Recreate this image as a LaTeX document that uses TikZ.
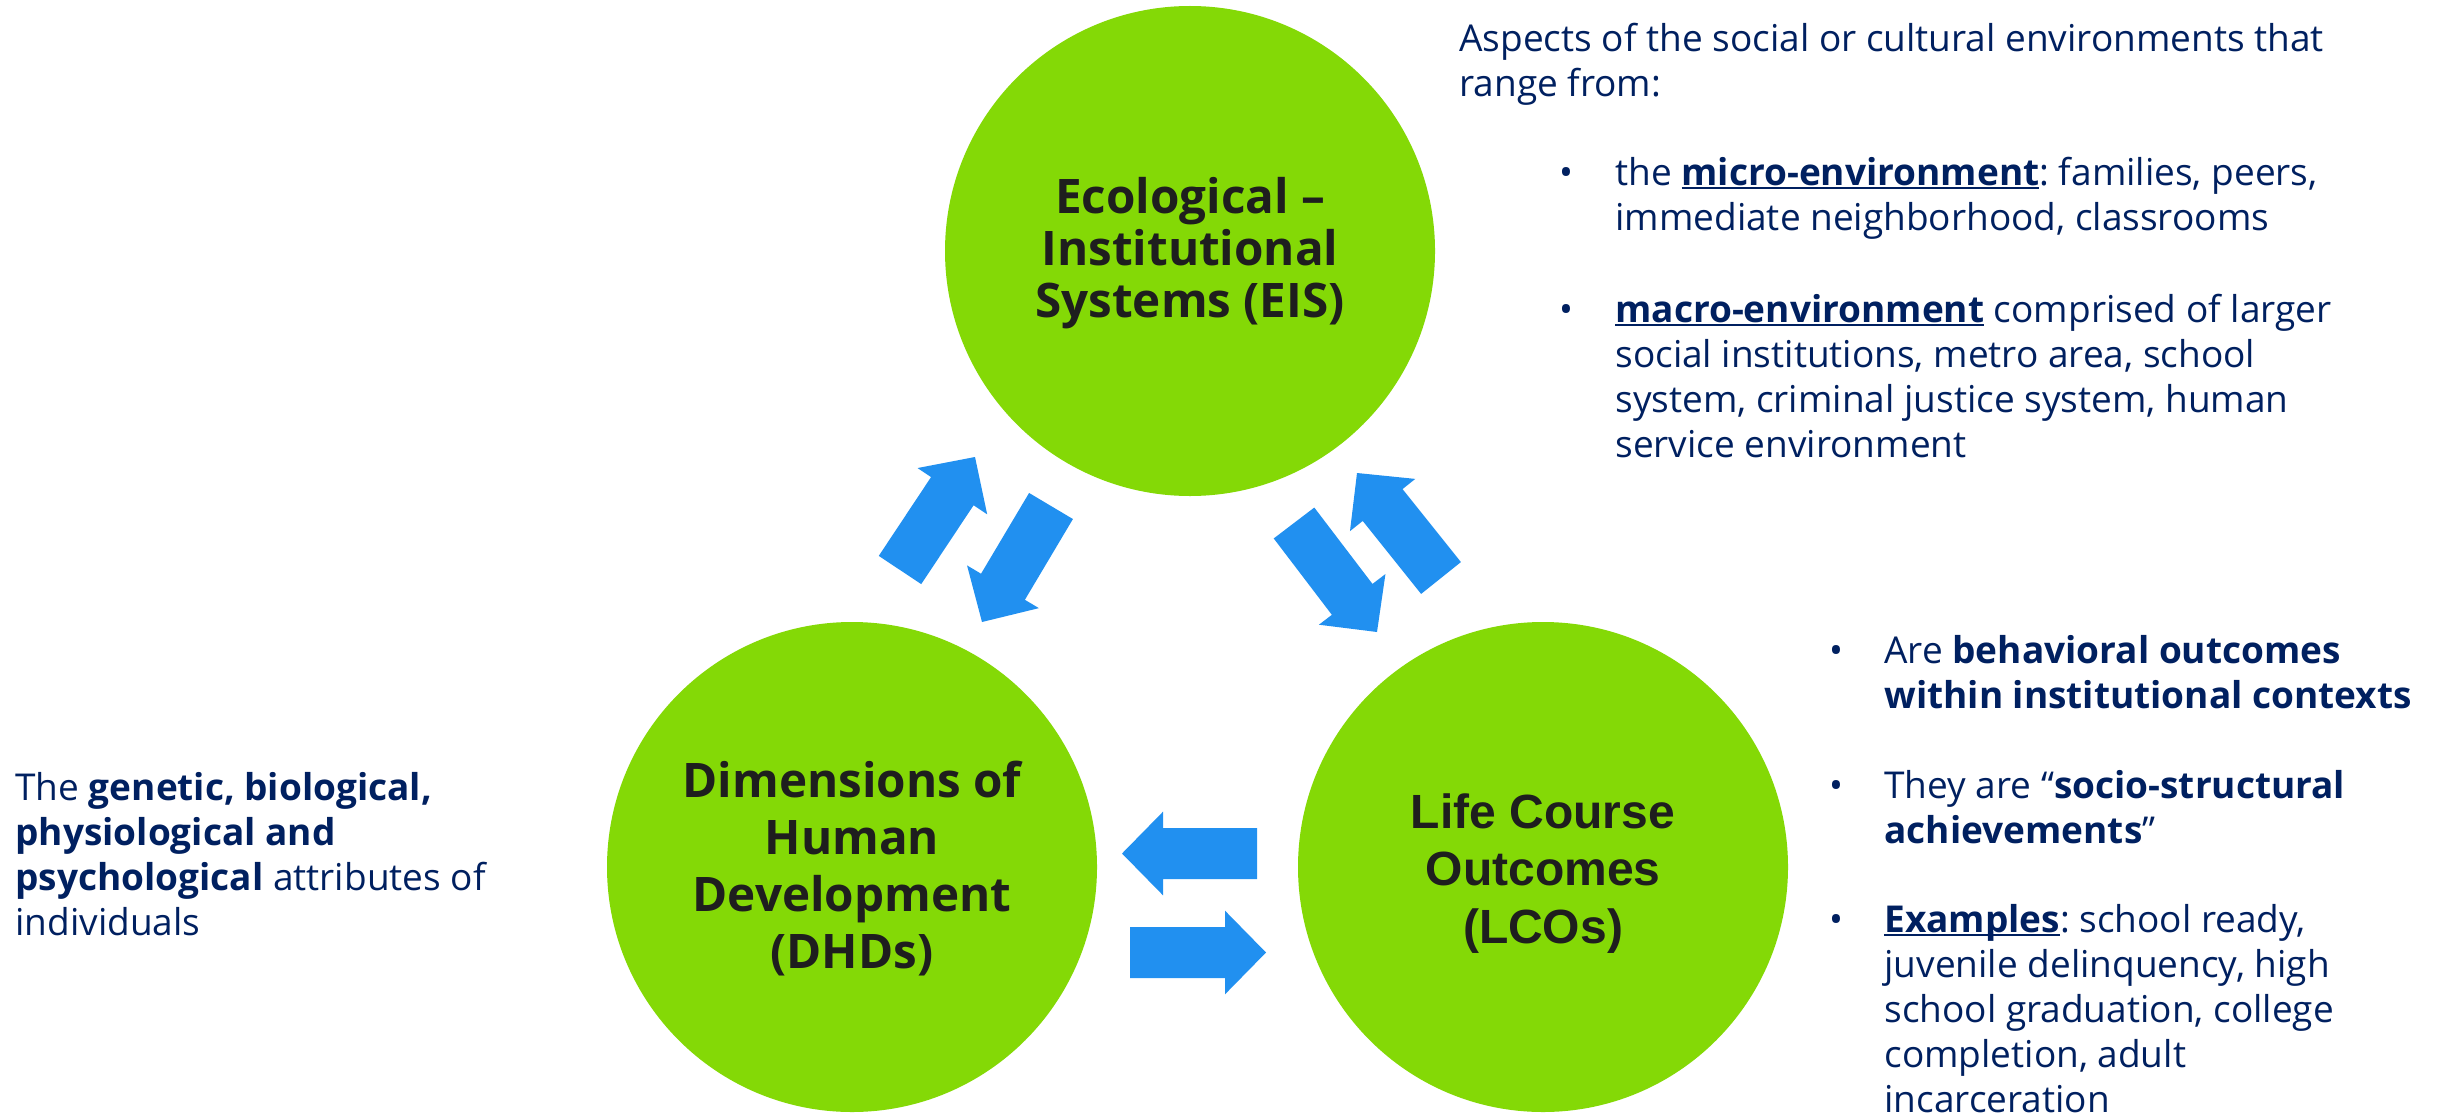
\documentclass[tikz,border=0pt]{standalone}
\usepackage{fontspec}
\setmainfont{Open Sans}
\newfontfamily\arialfont{Liberation Sans}
\usetikzlibrary{calc}
\frenchspacing
\definecolor{navy}{RGB}{0,32,96}
\definecolor{ballgreen}{RGB}{132,217,6}
\definecolor{arrowblue}{RGB}{33,144,240}
\definecolor{ctxt}{RGB}{30,30,30}
\newcommand\myul[1]{\setbox0\hbox{#1}\rlap{\rule[-1.8pt]{\wd0}{1pt}}\box0\relax}
\newcommand\Lines[1]{\begin{tabular}[t]{@{}l@{}}#1\end{tabular}}
\newcommand\CLines[1]{\begin{tabular}[t]{@{}c@{}}#1\end{tabular}}
% fat block arrow from tail #1 to tip #2
\newcommand\fatarrow[2]{%
  \coordinate (fj) at ($(#2)!20.5pt!(#1)$);
  \fill[arrowblue]
    ($(#1)!12.75pt!90:(#2)$) -- ($(fj)!12.75pt!90:(#2)$) -- ($(fj)!20.9pt!90:(#2)$) --
    (#2) --
    ($(fj)!20.9pt!-90:(#2)$) -- ($(fj)!12.75pt!-90:(#2)$) -- ($(#1)!12.75pt!-90:(#2)$) -- cycle;}
\tikzset{
  body/.style={anchor=base west, inner sep=0pt, text=navy,
    font=\fontsize{18.5}{22.5}\selectfont},
  disc/.style={circle, fill=ballgreen, minimum size=245pt, inner sep=0pt},
  ctext/.style={anchor=base, inner sep=0pt, text=ctxt,
    font=\fontsize{23.8}{28.5}\bfseries\selectfont},
  ctextl/.style={anchor=base, inner sep=0pt, text=ctxt,
    font=\arialfont\fontsize{24}{28.9}\bfseries\selectfont},
}
\begin{document}
\begin{tikzpicture}[x=0.5pt,y=-0.5pt]
\fill[white] (0,0) rectangle (2440,1113);
\useasboundingbox (0,0) rectangle (2440,1113);

% circles
\node[disc] (eis) at (1190,251) {};
\node[disc] (dhd) at (852,867) {};
\node[disc] (lco) at (1543,867) {};

\node[ctext, font=\fontsize{23.8}{26}\bfseries\selectfont] (eisT) at (1190,213) {\CLines{Ecological –\\Institutional\\Systems (EIS)}};
\node[ctext] (dhdT) at (852,797) {\CLines{Dimensions of\\Human\\Development\\(DHDs)}};
\node[ctextl] (lcoT) at (1543,828) {\CLines{Life Course\\Outcomes\\(LCOs)}};

% arrows
\coordinate (aAt) at (900,570);   \coordinate (aAh) at (975,457);
\coordinate (aBt) at (1051,506);  \coordinate (aBh) at (982,622);
\coordinate (aCt) at (1294,523);  \coordinate (aCh) at (1377,632);
\coordinate (aDt) at (1441,578);  \coordinate (aDh) at (1357,473);
\coordinate (aEt) at (1257,853.5); \coordinate (aEh) at (1122,853.5);
\coordinate (aFt) at (1130,952.5); \coordinate (aFh) at (1266,952.5);
\fatarrow{aAt}{aAh}
\fatarrow{aBt}{aBh}
\fatarrow{aCt}{aCh}
\fatarrow{aDt}{aDh}
\fatarrow{aEt}{aEh}
\fatarrow{aFt}{aFh}

% top-right text
\node[body] (p1) at (1459,52) {\Lines{Aspects of the social or cultural environments that\\range from:}};
\node[body] (b1) at (1559,185) {•};
\node[body] (t1) at (1615,185) {\Lines{the \myul{\textbf{micro-environment}}: families, peers,\\immediate neighborhood, classrooms}};
\node[body] (b2) at (1559,322) {•};
\node[body] (t2) at (1615,322) {\Lines{\myul{\textbf{macro-environment}} comprised of larger\\social institutions, metro area, school\\system, criminal justice system, human\\service environment}};

% bottom-right text
\node[body] (b3) at (1829,663) {•};
\node[body] (t3) at (1884,663) {\Lines{Are \textbf{behavioral outcomes}\\\textbf{within institutional contexts}}};
\node[body] (b4) at (1829,798) {•};
\node[body] (t4) at (1884,798) {\Lines{They are “\textbf{socio-structural}\\\textbf{achievements}”}};
\node[body] (b5) at (1829,932) {•};
\node[body] (t5) at (1884,932) {\Lines{\myul{\textbf{Examples}}: school ready,\\juvenile delinquency, high\\school graduation, college\\completion, adult\\incarceration}};

% left text
\node[body] (lt) at (15,800) {\Lines{The \textbf{genetic, biological,}\\\textbf{physiological and}\\\textbf{psychological} attributes of\\individuals}};
\end{tikzpicture}
\end{document}
